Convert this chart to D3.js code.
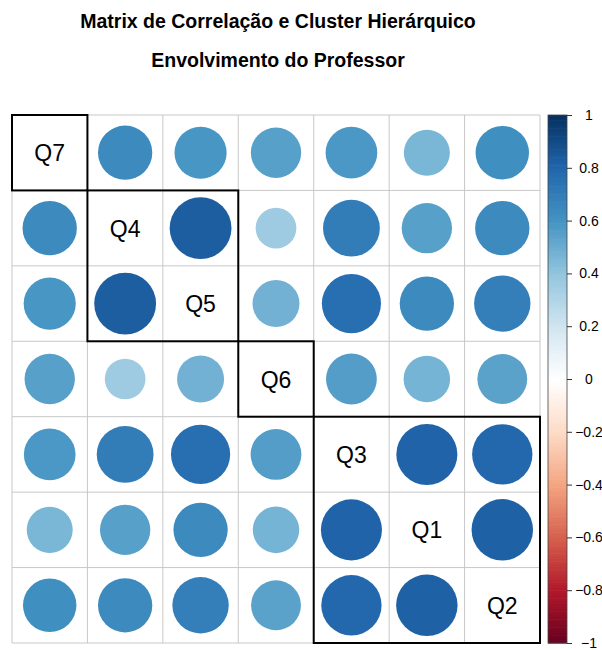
<!DOCTYPE html>
<html>
<head>
<meta charset="utf-8">
<script src="https://cdn.jsdelivr.net/npm/d3@7"></script>
<style>
  html, body { margin: 0; padding: 0; background: #fff; }
  svg { display: block; }
</style>
</head>
<body>
<svg id="chart" width="602" height="650"></svg>
<script>
const variables = ["Q7", "Q4", "Q5", "Q6", "Q3", "Q1", "Q2"];
const corrQ7 = [1.00, 0.64, 0.59, 0.55, 0.58, 0.46, 0.62];
const corrQ4 = [0.64, 1.00, 0.83, 0.36, 0.70, 0.55, 0.64];
const corrQ5 = [0.59, 0.83, 1.00, 0.48, 0.76, 0.64, 0.69];
const corrQ6 = [0.55, 0.36, 0.48, 1.00, 0.56, 0.47, 0.54];
const corrQ3 = [0.58, 0.70, 0.76, 0.56, 1.00, 0.81, 0.79];
const corrQ1 = [0.46, 0.55, 0.64, 0.47, 0.81, 1.00, 0.82];
const corrQ2 = [0.62, 0.64, 0.69, 0.54, 0.79, 0.82, 1.00];
const corrMatrix = [corrQ7, corrQ4, corrQ5, corrQ6, corrQ3, corrQ1, corrQ2];
const clusters = [[0, 0], [1, 2], [3, 3], [4, 6]];
const legendTicks = [1, 0.8, 0.6, 0.4, 0.2, 0, -0.2, -0.4, -0.6, -0.8, -1];
const paletteStops = ["#67001F", "#B2182B", "#D6604D", "#F4A582", "#FDDBC7", "#FFFFFF",
                      "#D1E5F0", "#92C5DE", "#4393C3", "#2166AC", "#053061"];
const titleLines = ["Matrix de Correlação e Cluster Hierárquico", "Envolvimento do Professor"];

const svg = d3.select("#chart");
const gLeft = 12, gTop = 115, gRight = 540, gBottom = 643;
const n = variables.length;

const x = d3.scaleBand().domain(d3.range(n)).range([gLeft, gRight]).paddingInner(0).paddingOuter(0);
const y = d3.scaleBand().domain(d3.range(n)).range([gTop, gBottom]).paddingInner(0).paddingOuter(0);
const cell = x.bandwidth();

const color = d3.scaleLinear()
  .domain(d3.range(paletteStops.length).map(i => -1 + 2 * i / (paletteStops.length - 1)))
  .range(paletteStops)
  .interpolate(d3.interpolateRgb);

const rScale = d3.scaleSqrt().domain([0, 1]).range([0, cell * 0.45]);

// Title
svg.selectAll("text.title").data(titleLines).join("text")
  .attr("class", "title")
  .attr("x", 278)
  .attr("y", (d, i) => 28 + i * 39)
  .attr("text-anchor", "middle")
  .attr("font-family", "Liberation Sans, Arial, sans-serif")
  .attr("font-weight", "bold")
  .attr("font-size", 19.5)
  .attr("fill", "#000")
  .text(d => d);

const cells = [];
corrMatrix.forEach((row, i) => row.forEach((v, j) => cells.push({ i, j, v })));

// Circles (off-diagonal)
svg.append("g").selectAll("circle")
  .data(cells.filter(d => d.i !== d.j)).join("circle")
  .attr("cx", d => x(d.j) + cell / 2)
  .attr("cy", d => y(d.i) + cell / 2)
  .attr("r", d => rScale(Math.abs(d.v)))
  .attr("fill", d => color(d.v));

// Grid lines
const grid = svg.append("g").attr("stroke", "#C8C8C8").attr("stroke-width", 1);
d3.range(n + 1).forEach(k => {
  const px = gLeft + k * cell, py = gTop + k * cell;
  grid.append("line").attr("x1", px).attr("x2", px).attr("y1", gTop).attr("y2", gBottom);
  grid.append("line").attr("x1", gLeft).attr("x2", gRight).attr("y1", py).attr("y2", py);
});

// Diagonal labels
svg.append("g").selectAll("text")
  .data(cells.filter(d => d.i === d.j)).join("text")
  .attr("x", d => x(d.j) + cell / 2)
  .attr("y", d => y(d.i) + cell / 2 + 8.5)
  .attr("text-anchor", "middle")
  .attr("font-family", "Liberation Sans, Arial, sans-serif")
  .attr("font-size", 23)
  .attr("fill", "#000")
  .text(d => variables[d.i]);

// Cluster rectangles
svg.append("g").selectAll("rect")
  .data(clusters).join("rect")
  .attr("x", d => x(d[0]))
  .attr("y", d => y(d[0]))
  .attr("width", d => (d[1] - d[0] + 1) * cell)
  .attr("height", d => (d[1] - d[0] + 1) * cell)
  .attr("fill", "none")
  .attr("stroke", "#000")
  .attr("stroke-width", 2);

// Color legend
const legX = 548, legW = 19;
const ly = d3.scaleLinear().domain([-1, 1]).range([gBottom, gTop]);
const steps = 200;
const leg = svg.append("g");
leg.selectAll("rect.step")
  .data(d3.range(steps)).join("rect")
  .attr("class", "step")
  .attr("x", legX)
  .attr("y", k => ly(-1 + 2 * (k + 1) / steps))
  .attr("width", legW)
  .attr("height", (gBottom - gTop) / steps + 0.6)
  .attr("fill", k => color(-1 + 2 * (k + 0.5) / steps));
leg.append("rect")
  .attr("x", legX).attr("y", gTop)
  .attr("width", legW).attr("height", gBottom - gTop)
  .attr("fill", "none").attr("stroke", "#444").attr("stroke-width", 0.8);

const axis = d3.axisRight(ly).tickValues(legendTicks).tickSize(5).tickPadding(0)
  .tickFormat(d => d3.format("")(d));
const axG = leg.append("g").attr("transform", `translate(${legX + legW},0)`).call(axis);
axG.select(".domain").remove();
axG.selectAll(".tick line").attr("stroke", "#333");
axG.selectAll(".tick text")
  .attr("x", 22)
  .attr("text-anchor", "middle")
  .attr("font-family", "Liberation Sans, Arial, sans-serif")
  .attr("font-size", 14)
  .attr("fill", "#000");
</script>
</body>
</html>
